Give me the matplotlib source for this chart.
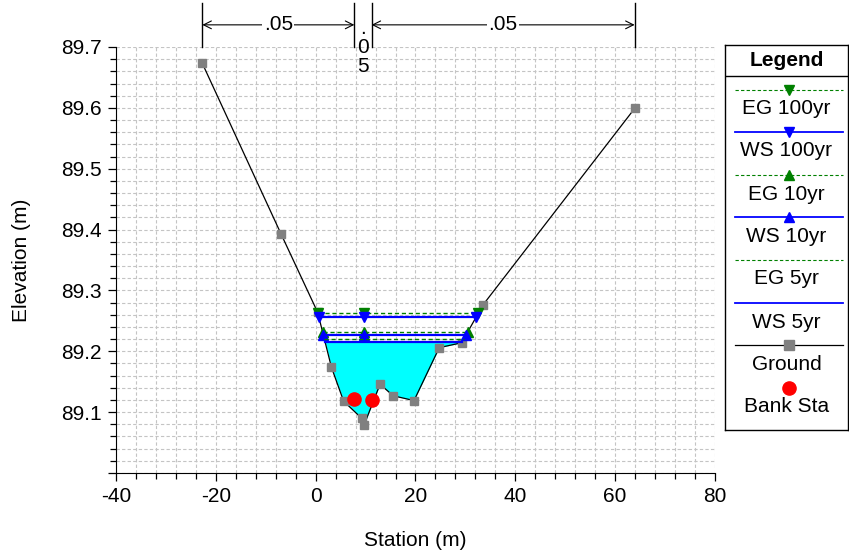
import matplotlib
matplotlib.use('Agg')
import matplotlib.pyplot as plt
import matplotlib.transforms as mtransforms
from matplotlib.ticker import MultipleLocator, FuncFormatter
import numpy as np

plt.rcParams['font.family'] = ['Liberation Sans', 'DejaVu Sans']
plt.rcParams['axes.unicode_minus'] = False

# ground profile (station m, elevation m)
ground_sta = [-22.7, -6.95, 0.4, 3.15, 5.6, 9.2, 9.7, 12.9, 15.5, 19.7, 24.76, 29.25, 33.5, 63.9]
ground_elev = [89.673, 89.393, 89.264, 89.174, 89.118, 89.090, 89.079, 89.146, 89.127,
               89.119, 89.206, 89.214, 89.276, 89.599]

# bank stations
bank_sta = [7.75, 11.2]
bank_elev = [89.122, 89.120]

# water surface / energy grade profiles
prof_names = ['EG 100yr', 'WS 100yr', 'EG 10yr', 'WS 10yr', 'EG 5yr', 'WS 5yr']
prof_elev = [89.263, 89.257, 89.232, 89.226, 89.220, 89.216]
prof_mid_sta = 9.7

# Manning's n values for each reach
n_values = ['.05', '.05', '.05']

prof_style = {
    'EG 100yr': dict(color='#008000', ls=(0, (3, 2)), lw=1.0, marker='v'),
    'WS 100yr': dict(color='#0000ff', ls='-', lw=1.6, marker='v'),
    'EG 10yr': dict(color='#008000', ls=(0, (3, 2)), lw=1.0, marker='^'),
    'WS 10yr': dict(color='#0000ff', ls='-', lw=1.6, marker='^'),
    'EG 5yr': dict(color='#008000', ls=(0, (3, 2)), lw=1.0, marker=None),
    'WS 5yr': dict(color='#0000ff', ls='-', lw=1.6, marker=None),
}


def crossing(elev, gx, gy, side):
    # station where the ground meets a water level, on the left or right bank
    gx = np.asarray(gx)
    gy = np.asarray(gy)
    if side == 'right':
        gx = gx[::-1]
        gy = gy[::-1]
    i = 0
    while gy[i + 1] >= elev:
        i += 1
    f = (gy[i] - elev) / (gy[i] - gy[i + 1])
    return gx[i] + f * (gx[i + 1] - gx[i])


fig = plt.figure(figsize=(8.49, 5.53), dpi=100)
ax = fig.add_axes([116/849, 1-473/553, 599/849, 426/553])

gx = np.array(ground_sta)
gy = np.array(ground_elev)

# water fill under the lowest water surface
ws5 = prof_elev[prof_names.index('WS 5yr')]
ax.fill_between(gx, gy, ws5, where=gy < ws5, interpolate=True, color='#00ffff', lw=0, zorder=1)

for name, el in zip(prof_names, prof_elev):
    xl = crossing(el, gx, gy, 'left')
    xr = crossing(el, gx, gy, 'right')
    st = prof_style[name]
    ax.plot([xl, prof_mid_sta, xr], [el]*3, color=st['color'], ls=st['ls'], lw=st['lw'],
            marker=st['marker'], markersize=7, zorder=3)

ax.plot(gx, gy, color='black', lw=0.9, marker='s', markersize=5.8,
        markerfacecolor='#808080', markeredgecolor='#808080', zorder=2)
ax.plot(bank_sta, bank_elev, ls='none', marker='o', markersize=9.5, color='#ff0000', zorder=4)

ax.set_xlim(-40, 80)
ax.set_ylim(89.0, 89.7)
ax.xaxis.set_major_locator(MultipleLocator(20))
ax.xaxis.set_minor_locator(MultipleLocator(4))
ax.yaxis.set_major_locator(MultipleLocator(0.1))
ax.yaxis.set_minor_locator(MultipleLocator(0.02))
ax.yaxis.set_major_formatter(FuncFormatter(lambda v, p: '' if v < 89.05 else '%.1f' % v))
ax.grid(True, which='both', color='#c4c4c4', ls=(0, (3, 2)), lw=0.8)
ax.set_axisbelow(True)
for s in ['top', 'right']:
    ax.spines[s].set_visible(False)
ax.tick_params(which='major', length=6, width=0.9, labelsize=15, pad=4)
ax.tick_params(which='minor', length=4, width=0.9)
ax.set_xlabel('Station (m)', fontsize=15, labelpad=18)
ax.set_ylabel('Elevation (m)', fontsize=15, labelpad=22)

# Manning's n annotation above the plot
trans = mtransforms.blended_transform_factory(ax.transData, ax.transAxes)
n_breaks = [ground_sta[0], bank_sta[0], bank_sta[1], ground_sta[-1]]
for xb in n_breaks:
    ax.plot([xb, xb], [1.0, 1.103], color='black', lw=1.0, transform=trans, clip_on=False)
ya = 1.052
for k in range(3):
    x0, x1 = n_breaks[k], n_breaks[k+1]
    xm = (x0 + x1) / 2
    if x1 - x0 > 10:
        ax.annotate('', xy=(x1, ya), xytext=(x0, ya), xycoords=trans, textcoords=trans,
                    arrowprops=dict(arrowstyle='<->', color='black', lw=0.8,
                                    shrinkA=0, shrinkB=0, mutation_scale=14))
        ax.text(xm, ya, n_values[k], transform=trans, ha='center', va='center', fontsize=15,
                bbox=dict(facecolor='white', edgecolor='none', pad=1))
    else:
        ax.text(xm, 1.0, '\n'.join(n_values[k]), transform=trans, ha='center', va='center',
                fontsize=15, linespacing=1.0)

# legend panel
lax = fig.add_axes([725/849, 1-430/553, 123/849, 385/553])
lax.set_xlim(0, 123)
lax.set_ylim(385, 0)
lax.set_xticks([])
lax.set_yticks([])
for s in lax.spines.values():
    s.set_linewidth(1.0)
lax.text(61.5, 15, 'Legend', ha='center', va='center', fontsize=15, fontweight='bold')
lax.plot([0, 123], [31, 31], color='black', lw=1.0)

leg_names = prof_names + ['Ground', 'Bank Sta']
line_y = [45, 87, 130, 172, 215, 258, 300, 343]
for name, yl in zip(leg_names, line_y):
    if name in prof_style:
        st = prof_style[name]
        lax.plot([10, 118], [yl, yl], color=st['color'], ls=st['ls'], lw=st['lw'] * 0.8)
        if st['marker']:
            lax.plot([64], [yl], ls='none', marker=st['marker'], color=st['color'], markersize=7)
    elif name == 'Ground':
        lax.plot([10, 118], [yl, yl], color='black', lw=0.9)
        lax.plot([64], [yl], ls='none', marker='s', markersize=7, color='#808080')
    else:
        lax.plot([64], [yl], ls='none', marker='o', markersize=9.5, color='#ff0000')
    lax.text(61.5, yl + 19, name, ha='center', va='center', fontsize=15)

fig.savefig('out.png', dpi=100)
